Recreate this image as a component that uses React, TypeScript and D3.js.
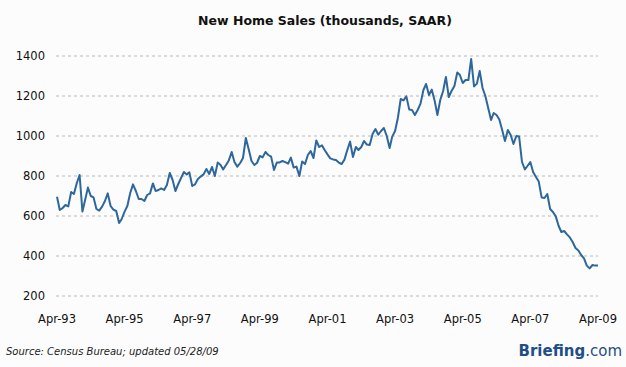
import React from "react";
import * as d3 from "d3";

// Monthly new home sales, thousands SAAR, Apr-1993 .. Apr-2009
const startYear = 1993;
const startMonth = 3; // April (0-based)
const sales: number[] = [
  696, 630, 640, 655, 648, 720, 710, 765, 805, 622,
  685, 742, 700, 693, 635, 627, 647, 675, 713, 650,
  632, 625, 565, 585, 622, 650, 715, 758, 725, 685,
  685, 675, 705, 713, 763, 725, 730, 738, 730, 755,
  815, 780, 725, 760, 790, 820, 808, 818, 750, 758,
  785, 797, 808, 835, 810, 845, 800, 867, 855, 833,
  855, 878, 920, 870, 847, 865, 890, 990, 935, 875,
  855, 865, 900, 893, 920, 905, 897, 830, 867, 868,
  875, 869, 862, 892, 842, 847, 800, 872, 860, 905,
  925, 890, 978, 945, 953, 930, 908, 888, 883, 880,
  867, 860, 882, 930, 972, 895, 945, 930, 945, 975,
  957, 955, 1010, 1035, 1007, 1025, 1040, 1000, 940, 997,
  1025, 1090, 1185, 1178, 1198, 1132, 1130, 1105, 1130, 1162,
  1230, 1260, 1205, 1232, 1178, 1105, 1180, 1225, 1295, 1195,
  1225, 1250, 1318, 1305, 1265, 1280, 1280, 1385, 1248, 1262,
  1325, 1240, 1200, 1140, 1080, 1115, 1105, 1082, 1030, 975,
  1030, 1005, 960, 1000, 997, 870, 833, 850, 870, 820,
  795, 772, 693, 690, 710, 635, 620, 598, 550, 520,
  525, 508, 493, 470, 440, 428, 405, 388, 352, 338,
  355, 352, 352,
];
const yTicks: number[] = [200, 400, 600, 800, 1000, 1200, 1400];
const xTickLabels: string[] = [
  "Apr-93", "Apr-95", "Apr-97", "Apr-99", "Apr-01", "Apr-03", "Apr-05", "Apr-07", "Apr-09",
];
const title = "New Home Sales (thousands, SAAR)";
const source = "Source: Census Bureau; updated 05/28/09";

const W = 626;
const H = 367;

export default function App() {
  const start = new Date(startYear, startMonth, 1);
  const data = sales.map((v, i) => ({ date: d3.timeMonth.offset(start, i), value: v }));
  const end = data[data.length - 1].date;

  const x = d3.scaleTime().domain([start, end]).range([57, 598]);
  const y = d3.scaleLinear().domain([200, 1400]).range([296, 56]);

  const line = d3
    .line<{ date: Date; value: number }>()
    .x((d) => x(d.date))
    .y((d) => y(d.value));

  const xTicks = xTickLabels.map((lab, i) => ({
    label: lab,
    date: d3.timeMonth.offset(start, i * 24),
  }));

  const font = "'DejaVu Sans', Verdana, sans-serif";

  return (
    <svg
      width={W}
      height={H}
      style={{ position: "absolute", left: 0, top: 0, background: "#fcfcfc" }}
    >
      <rect x={0} y={0} width={W} height={H} fill="#fcfcfc" />
      <text
        x={325}
        y={25}
        textAnchor="middle"
        fontFamily={font}
        fontWeight="bold"
        fontSize={12.5}
        fill="#111"
      >
        {title}
      </text>
      {yTicks.map((t) => (
        <g key={t}>
          <line
            x1={56}
            x2={598}
            y1={y(t)}
            y2={y(t)}
            stroke="#b8b8b8"
            strokeWidth={1}
            strokeDasharray="3,3"
          />
          <text
            x={45}
            y={y(t)}
            dy="0.36em"
            textAnchor="end"
            fontFamily={font}
            fontSize={11.5}
            fill="#111"
          >
            {t}
          </text>
        </g>
      ))}
      {xTicks.map((t) => (
        <text
          key={t.label}
          x={x(t.date)}
          y={323}
          textAnchor="middle"
          fontFamily={font}
          fontSize={11.5}
          fill="#111"
        >
          {t.label}
        </text>
      ))}
      <path
        d={line(data) || ""}
        fill="none"
        stroke="#2e679b"
        strokeWidth={2}
        strokeLinejoin="round"
      />
      <text
        x={6}
        y={355}
        fontFamily={font}
        fontStyle="italic"
        fontSize={10}
        fill="#222"
      >
        {source}
      </text>
      <text
        x={622}
        y={356}
        textAnchor="end"
        fontFamily={font}
        fontSize={15}
        fill="#1f4f86"
      >
        <tspan fontWeight="bold">Briefing</tspan>
        <tspan>.com</tspan>
      </text>
    </svg>
  );
}
